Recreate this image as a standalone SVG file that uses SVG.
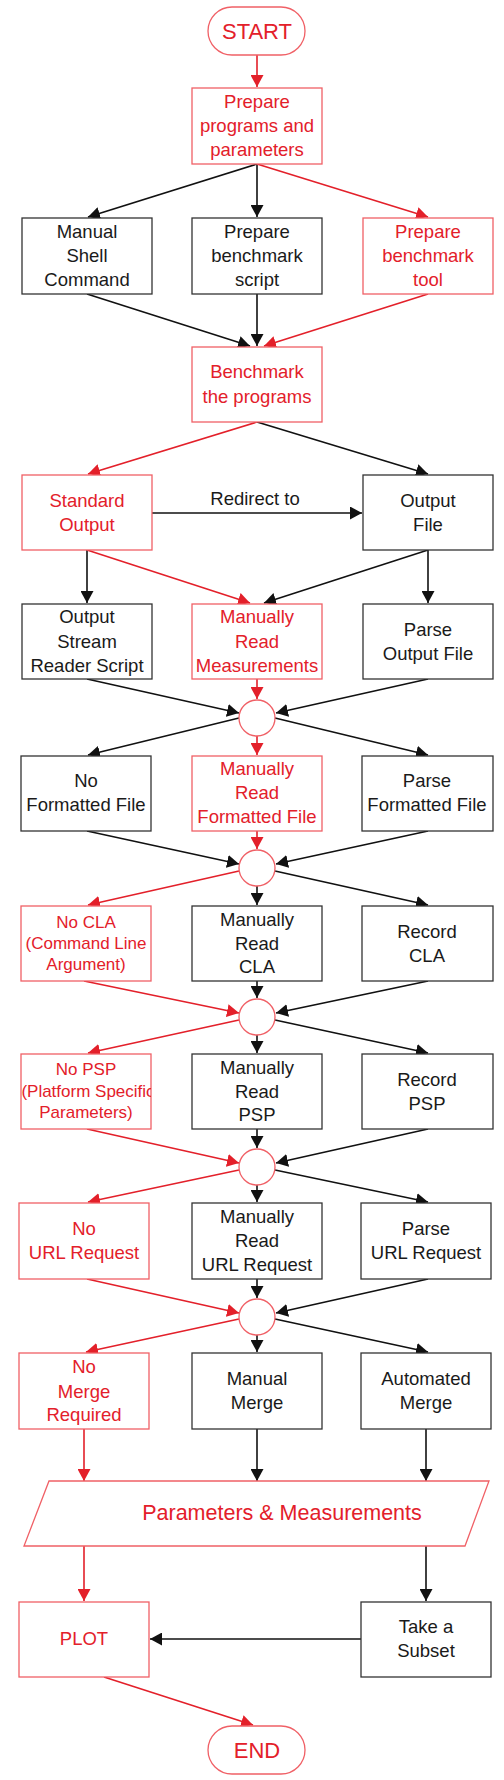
<svg xmlns="http://www.w3.org/2000/svg" width="504" height="1780" viewBox="0 0 504 1780">
<style>
text{font-family:"Liberation Sans",Arial,sans-serif;font-size:18.5px;text-anchor:middle}
.bk{fill:#fff;stroke:#333;stroke-width:1.3}
.rd{fill:#fff;stroke:#f06066;stroke-width:1.3}
.tb{fill:#1a1a1a}
.tr{fill:#e3202a}
.sm{font-size:17px}
.lb{stroke:#111;stroke-width:1.6;fill:none;marker-end:url(#ab)}
.lr{stroke:#e3202a;stroke-width:1.6;fill:none;marker-end:url(#ar)}
</style>
<defs>
<marker id="ab" markerUnits="userSpaceOnUse" markerWidth="12" markerHeight="13" refX="12" refY="6.5" orient="auto"><path d="M0,0 L12,6.5 L0,13 Z" fill="#111"/></marker>
<marker id="ar" markerUnits="userSpaceOnUse" markerWidth="12" markerHeight="13" refX="12" refY="6.5" orient="auto"><path d="M0,0 L12,6.5 L0,13 Z" fill="#e3202a"/></marker>
<clipPath id="cpsp"><rect x="21" y="1054" width="130" height="75"/></clipPath>
</defs>
<g id="connectors">
<path class="lr" d="M257,55 L257,87"/>
<path class="lb" d="M257,164 L88,217"/>
<path class="lb" d="M257,164 L257,217"/>
<path class="lr" d="M257,164 L428,217"/>
<path class="lb" d="M87,294 L250,346"/>
<path class="lb" d="M257,294 L257,346"/>
<path class="lr" d="M428,294 L264,346"/>
<path class="lr" d="M257,422 L88,474"/>
<path class="lb" d="M257,422 L428,474"/>
<path class="lb" d="M152,513 L362,513"/>
<path class="lb" d="M87,550 L87,603"/>
<path class="lr" d="M87,550 L250,603"/>
<path class="lb" d="M428,550 L264,603"/>
<path class="lb" d="M428,550 L428,603"/>
<path class="lb" d="M87,679 L239,713"/>
<path class="lr" d="M257,679 L257,699"/>
<path class="lb" d="M428,679 L276,713"/>
<path class="lb" d="M239,718 L88,755"/>
<path class="lr" d="M257,736 L257,755"/>
<path class="lb" d="M275,718 L428,755"/>
<path class="lb" d="M87,831 L239,864"/>
<path class="lr" d="M257,831 L257,849"/>
<path class="lb" d="M428,831 L276,864"/>
<path class="lr" d="M239,871 L88,905"/>
<path class="lb" d="M257,886 L257,905"/>
<path class="lb" d="M275,871 L428,905"/>
<path class="lr" d="M84,981 L239,1013"/>
<path class="lb" d="M257,981 L257,998"/>
<path class="lb" d="M428,981 L276,1013"/>
<path class="lr" d="M239,1020 L88,1053"/>
<path class="lb" d="M257,1035 L257,1053"/>
<path class="lb" d="M275,1020 L428,1053"/>
<path class="lr" d="M87,1129 L239,1163"/>
<path class="lb" d="M257,1129 L257,1148"/>
<path class="lb" d="M428,1129 L276,1163"/>
<path class="lr" d="M239,1170 L88,1202"/>
<path class="lb" d="M257,1185 L257,1202"/>
<path class="lb" d="M275,1170 L428,1202"/>
<path class="lr" d="M87,1279 L239,1313"/>
<path class="lb" d="M257,1279 L257,1298"/>
<path class="lb" d="M428,1279 L276,1313"/>
<path class="lr" d="M239,1319 L86,1352"/>
<path class="lb" d="M257,1335 L257,1352"/>
<path class="lb" d="M275,1319 L428,1352"/>
<path class="lr" d="M84,1429 L84,1481"/>
<path class="lb" d="M257,1429 L257,1481"/>
<path class="lb" d="M426,1429 L426,1481"/>
<path class="lr" d="M84,1546 L84,1601"/>
<path class="lb" d="M426,1546 L426,1601"/>
<path class="lb" d="M361,1639 L150,1639"/>
<path class="lr" d="M104,1677 L253,1725"/>
<text class="tb" x="255" y="505">Redirect to</text>
</g>
<g id="start"><rect class="rd" x="208" y="7" width="97" height="48" rx="24"/><text class="tr" x="257" y="39" style="font-size:22px">START</text></g>
<g id="prepare"><rect class="rd" x="192" y="88" width="130" height="76"/><text class="tr" x="257" y="108">Prepare</text><text class="tr" x="257" y="132">programs and</text><text class="tr" x="257" y="156">parameters</text></g>
<g id="manual-shell"><rect class="bk" x="22" y="218" width="130" height="76"/><text class="tb" x="87" y="238">Manual</text><text class="tb" x="87" y="262">Shell</text><text class="tb" x="87" y="286">Command</text></g>
<g id="bench-script"><rect class="bk" x="192" y="218" width="130" height="76"/><text class="tb" x="257" y="238">Prepare</text><text class="tb" x="257" y="262">benchmark</text><text class="tb" x="257" y="286">script</text></g>
<g id="bench-tool"><rect class="rd" x="363" y="218" width="130" height="76"/><text class="tr" x="428" y="238">Prepare</text><text class="tr" x="428" y="262">benchmark</text><text class="tr" x="428" y="286">tool</text></g>
<g id="benchmark"><rect class="rd" x="192" y="347" width="130" height="75"/><text class="tr" x="257" y="378">Benchmark</text><text class="tr" x="257" y="403">the programs</text></g>
<g id="std-output"><rect class="rd" x="22" y="475" width="130" height="75"/><text class="tr" x="87" y="507">Standard</text><text class="tr" x="87" y="531">Output</text></g>
<g id="output-file"><rect class="bk" x="363" y="475" width="130" height="75"/><text class="tb" x="428" y="507">Output</text><text class="tb" x="428" y="531">File</text></g>
<g id="stream-reader"><rect class="bk" x="22" y="604" width="130" height="75"/><text class="tb" x="87" y="623">Output</text><text class="tb" x="87" y="648">Stream</text><text class="tb" x="87" y="672">Reader Script</text></g>
<g id="manual-read-meas"><rect class="rd" x="192" y="604" width="130" height="75"/><text class="tr" x="257" y="623">Manually</text><text class="tr" x="257" y="648">Read</text><text class="tr" x="257" y="672">Measurements</text></g>
<g id="parse-output"><rect class="bk" x="363" y="604" width="130" height="75"/><text class="tb" x="428" y="636">Parse</text><text class="tb" x="428" y="660">Output File</text></g>
<g id="join1"><circle class="rd" cx="257" cy="718" r="18"/></g>
<g id="no-formatted"><rect class="bk" x="21" y="756" width="130" height="75"/><text class="tb" x="86" y="787">No</text><text class="tb" x="86" y="811">Formatted File</text></g>
<g id="manual-formatted"><rect class="rd" x="192" y="756" width="130" height="75"/><text class="tr" x="257" y="775">Manually</text><text class="tr" x="257" y="799">Read</text><text class="tr" x="257" y="823">Formatted File</text></g>
<g id="parse-formatted"><rect class="bk" x="362" y="756" width="131" height="75"/><text class="tb" x="427" y="787">Parse</text><text class="tb" x="427" y="811">Formatted File</text></g>
<g id="join2"><circle class="rd" cx="257" cy="868" r="18"/></g>
<g id="no-cla"><rect class="rd" x="21" y="906" width="130" height="75"/><text class="tr sm" x="86" y="928">No CLA</text><text class="tr sm" x="86" y="949">(Command Line</text><text class="tr sm" x="86" y="970">Argument)</text></g>
<g id="manual-cla"><rect class="bk" x="192" y="906" width="130" height="75"/><text class="tb" x="257" y="926">Manually</text><text class="tb" x="257" y="950">Read</text><text class="tb" x="257" y="973">CLA</text></g>
<g id="record-cla"><rect class="bk" x="362" y="906" width="131" height="75"/><text class="tb" x="427" y="938">Record</text><text class="tb" x="427" y="962">CLA</text></g>
<g id="join3"><circle class="rd" cx="257" cy="1017" r="18"/></g>
<g id="no-psp"><rect class="rd" x="21" y="1054" width="130" height="75"/><g clip-path="url(#cpsp)"><text class="tr sm" x="86" y="1075">No PSP</text><text class="tr sm" x="88" y="1097">(Platform Specific</text><text class="tr sm" x="86" y="1118">Parameters)</text></g></g>
<g id="manual-psp"><rect class="bk" x="192" y="1054" width="130" height="75"/><text class="tb" x="257" y="1074">Manually</text><text class="tb" x="257" y="1098">Read</text><text class="tb" x="257" y="1121">PSP</text></g>
<g id="record-psp"><rect class="bk" x="362" y="1054" width="131" height="75"/><text class="tb" x="427" y="1086">Record</text><text class="tb" x="427" y="1110">PSP</text></g>
<g id="join4"><circle class="rd" cx="257" cy="1167" r="18"/></g>
<g id="no-url"><rect class="rd" x="19" y="1203" width="130" height="76"/><text class="tr" x="84" y="1235">No</text><text class="tr" x="84" y="1259">URL Request</text></g>
<g id="manual-url"><rect class="bk" x="192" y="1203" width="130" height="76"/><text class="tb" x="257" y="1223">Manually</text><text class="tb" x="257" y="1247">Read</text><text class="tb" x="257" y="1271">URL Request</text></g>
<g id="parse-url"><rect class="bk" x="361" y="1203" width="130" height="76"/><text class="tb" x="426" y="1235">Parse</text><text class="tb" x="426" y="1259">URL Request</text></g>
<g id="join5"><circle class="rd" cx="257" cy="1317" r="18"/></g>
<g id="no-merge"><rect class="rd" x="19" y="1353" width="130" height="76"/><text class="tr" x="84" y="1373">No</text><text class="tr" x="84" y="1398">Merge</text><text class="tr" x="84" y="1421">Required</text></g>
<g id="manual-merge"><rect class="bk" x="192" y="1353" width="130" height="76"/><text class="tb" x="257" y="1385">Manual</text><text class="tb" x="257" y="1409">Merge</text></g>
<g id="auto-merge"><rect class="bk" x="361" y="1353" width="130" height="76"/><text class="tb" x="426" y="1385">Automated</text><text class="tb" x="426" y="1409">Merge</text></g>
<g id="params-measurements"><polygon class="rd" points="49,1481 489,1481 465,1546 24,1546"/><text class="tr" x="282" y="1520" style="font-size:21.5px">Parameters &amp; Measurements</text></g>
<g id="plot"><rect class="rd" x="19" y="1602" width="130" height="75"/><text class="tr" x="84" y="1645">PLOT</text></g>
<g id="subset"><rect class="bk" x="361" y="1602" width="130" height="75"/><text class="tb" x="426" y="1633">Take a</text><text class="tb" x="426" y="1657">Subset</text></g>
<g id="end"><rect class="rd" x="208" y="1726" width="97" height="48" rx="24"/><text class="tr" x="257" y="1758" style="font-size:22px">END</text></g>
</svg>
